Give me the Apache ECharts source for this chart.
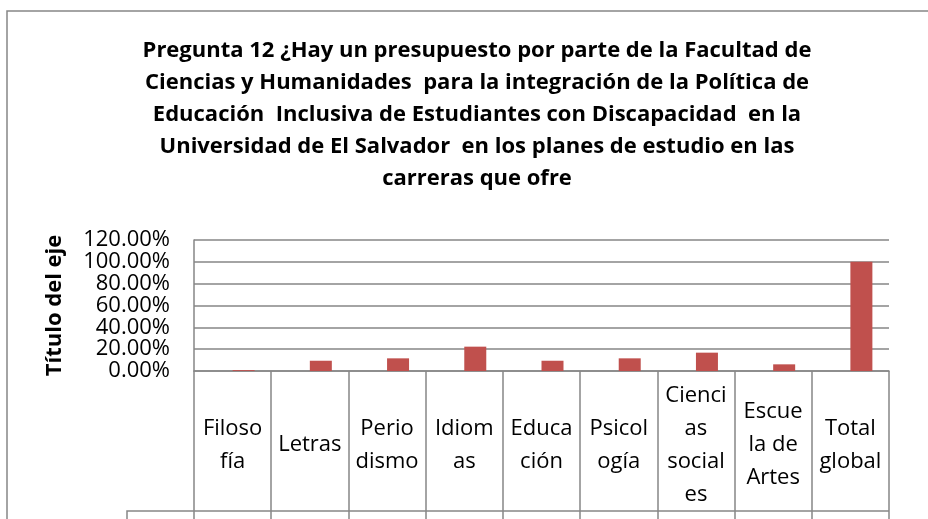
<!DOCTYPE html>
<html>
<head>
<meta charset="utf-8">
<script src="https://cdn.jsdelivr.net/npm/echarts@6/dist/echarts.min.js"></script>
<style>
  html, body { margin: 0; padding: 0; background: #fff; }
  #chart { width: 928px; height: 519px; }
</style>
</head>
<body>
<div id="chart"></div>
<script>
const categories = ['Filosofía', 'Letras', 'Periodismo', 'Idiomas', 'Educación', 'Psicología', 'Ciencias sociales', 'Escuela de Artes', 'Total global'];
// label text as wrapped inside the cells of the reference
const catLabels = ['Filoso\nfía', 'Letras', 'Perio\ndismo', 'Idiom\nas', 'Educa\nción', 'Psicol\nogía', 'Cienci\nas\nsocial\nes', 'Escue\nla de\nArtes', 'Total\nglobal'];
// first series is present in the source but has no values (it only reserves the left slot)
const cuenta = ['-', '-', '-', '-', '-', '-', '-', '-', '-'];
const porcentaje = [0.8, 9.4, 11.6, 22.3, 9.4, 11.6, 16.8, 6.1, 100];
const yTicks = [0, 20, 40, 60, 80, 100, 120];

const titleText = 'Pregunta 12 ¿Hay un presupuesto por parte de la Facultad de\n' +
  'Ciencias y Humanidades  para la integración de la Política de\n' +
  'Educación  Inclusiva de Estudiantes con Discapacidad  en la\n' +
  'Universidad de El Salvador  en los planes de estudio en las\n' +
  'carreras que ofre';

const lineColor = '#868686';
const font = 'Open Sans';

const chart = echarts.init(document.getElementById('chart'));

chart.setOption({
  backgroundColor: '#fff',
  animation: false,
  textStyle: { fontFamily: font },
  title: {
    text: titleText,
    left: 472,
    top: 30,
    textAlign: 'center',
    textStyle: {
      fontFamily: font,
      fontSize: 22,
      fontWeight: 'bold',
      lineHeight: 32,
      color: '#000'
    }
  },
  grid: {
    left: 194,
    top: 240,
    width: 695,
    height: 131
  },
  xAxis: {
    type: 'category',
    data: categories,
    axisLine: { lineStyle: { color: lineColor, width: 1.5 } },
    axisTick: { show: true, length: 150, lineStyle: { color: lineColor, width: 1.5 } },
    axisLabel: {
      interval: 0,
      margin: 74,
      verticalAlign: 'middle',
      fontFamily: font,
      fontSize: 22,
      lineHeight: 33,
      color: '#000',
      formatter: (v, i) => catLabels[i]
    }
  },
  yAxis: {
    type: 'value',
    min: yTicks[0],
    max: yTicks[yTicks.length - 1],
    interval: 20,
    name: 'Título del eje',
    nameLocation: 'middle',
    nameRotate: 90,
    nameGap: 128,
    nameTextStyle: { fontFamily: font, fontSize: 22, fontWeight: 'bold', color: '#000' },
    axisLine: { show: true, lineStyle: { color: lineColor, width: 1.5 } },
    axisTick: { show: false },
    axisLabel: {
      margin: 24,
      fontFamily: font,
      fontSize: 22,
      color: '#000',
      formatter: v => v.toFixed(2) + '%'
    },
    splitLine: { lineStyle: { color: lineColor, width: 1.5 } }
  },
  series: [
    {
      name: 'Cuenta',
      type: 'bar',
      data: cuenta,
      barWidth: 22,
      barGap: '0%'
    },
    {
      name: 'Porcentaje',
      type: 'bar',
      data: porcentaje,
      barWidth: 22,
      barGap: '0%',
      itemStyle: { color: '#C0504D' }
    }
  ],
  graphic: [
    {
      type: 'rect',
      shape: { x: 7, y: 11, width: 1000, height: 600 },
      style: { fill: 'none', stroke: lineColor, lineWidth: 1.5 },
      silent: true
    },
    {
      type: 'polyline',
      shape: { points: [[127, 530], [127, 511], [889, 511]] },
      style: { fill: 'none', stroke: lineColor, lineWidth: 1.5 },
      silent: true
    }
  ]
});
</script>
</body>
</html>
